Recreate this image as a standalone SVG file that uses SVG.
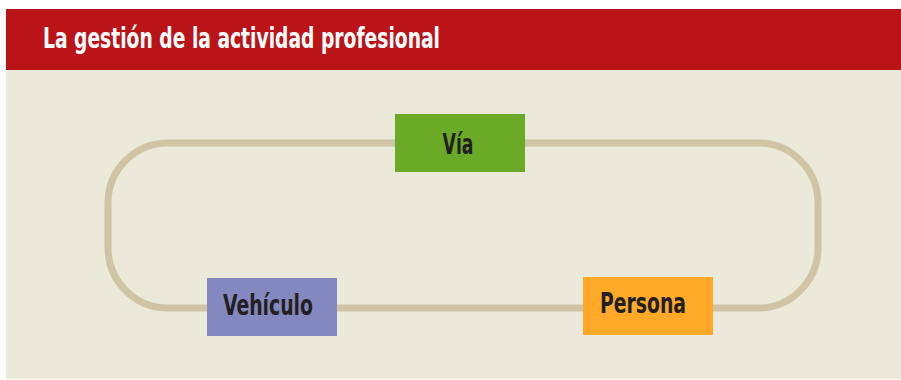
<svg xmlns="http://www.w3.org/2000/svg" width="901" height="380" viewBox="0 0 901 380">
<style>
.t{font-family:"Liberation Sans Narrow","DejaVu Sans Condensed","Liberation Sans",sans-serif;font-weight:bold;}
.title{fill:#FFFFFF;font-size:28px;}
.lbl{fill:#231F20;font-size:29px;text-anchor:middle;}
</style>
<rect x="0" y="0" width="901" height="380" fill="#FFFFFF"/>
<rect x="6" y="70" width="895" height="309" fill="#EBE9DA"/>
<g id="header">
<rect x="6" y="9" width="895" height="61" fill="#BA1419"/>
<text class="t title" x="43" y="48" textLength="397" lengthAdjust="spacingAndGlyphs">La gestión de la actividad profesional</text>
</g>
<g id="connectors">
<rect x="108" y="143" width="710" height="165" rx="60" ry="60" fill="none" stroke="#D0C4A4" stroke-width="7"/>
</g>
<g id="via">
<rect x="395" y="114" width="130" height="58" fill="#6AAA26"/>
<text class="t lbl" x="458" y="154" textLength="31" lengthAdjust="spacingAndGlyphs">Vía</text>
</g>
<g id="vehiculo">
<rect x="207" y="278" width="130" height="58" fill="#8488C0"/>
<text class="t lbl" x="268" y="315" textLength="90" lengthAdjust="spacingAndGlyphs">Vehículo</text>
</g>
<g id="persona">
<rect x="583" y="277" width="130" height="58" fill="#FFA928"/>
<text class="t lbl" x="643" y="313" textLength="86" lengthAdjust="spacingAndGlyphs">Persona</text>
</g>
</svg>
